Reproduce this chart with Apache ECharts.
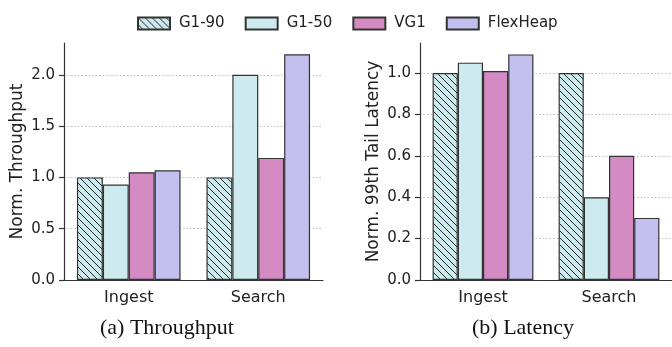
<!DOCTYPE html>
<html>
<head>
<meta charset="utf-8">
<script src="https://cdn.jsdelivr.net/npm/echarts@6/dist/echarts.min.js"></script>
<style>
  html, body { margin: 0; padding: 0; background: #fff; }
  #chart { width: 672px; height: 347px; }
</style>
</head>
<body>
<div id="chart"></div>
<script>
'use strict';
// data
const categories = ['Ingest', 'Search'];
const seriesNames = ['G1-90', 'G1-50', 'VG1', 'FlexHeap'];

const tputG190 = [1.0, 1.0];
const tputG150 = [0.93, 2.0];
const tputVG1 = [1.05, 1.19];
const tputFlex = [1.07, 2.2];

const latG190 = [1.0, 1.0];
const latG150 = [1.05, 0.4];
const latVG1 = [1.01, 0.6];
const latFlex = [1.09, 0.3];

const tputTicks = [0, 0.5, 1.0, 1.5, 2.0];
const latTicks = [0, 0.2, 0.4, 0.6, 0.8, 1.0];

const cyan = '#cdeaee';
const pink = '#d48bc4';
const lavender = '#c3c0f0';
const edge = '#333';

// hatch pattern for G1-90 (\\\)
function makeHatch() {
    const s = 7;
    const c = document.createElement('canvas');
    c.width = s; c.height = s;
    const ctx = c.getContext('2d');
    ctx.fillStyle = cyan;
    ctx.fillRect(0, 0, s, s);
    ctx.strokeStyle = '#111';
    ctx.lineWidth = 0.9;
    for (let k = -1; k <= 1; k++) {
        ctx.beginPath();
        ctx.moveTo(k * s, 0);
        ctx.lineTo(k * s + s, s);
        ctx.stroke();
    }
    return { image: c, repeat: 'repeat' };
}
const hatch = makeHatch();

const sans = 'DejaVu Sans';
const txt = '#222';

function xAxis(gridIndex) {
    return {
        type: 'category',
        gridIndex: gridIndex,
        data: categories,
        axisLine: { lineStyle: { color: edge, width: 1.2 } },
        axisTick: { alignWithLabel: true, length: 5, lineStyle: { color: edge, width: 1.2 } },
        axisLabel: { color: txt, fontFamily: sans, fontSize: 16, margin: 10 }
    };
}

function yAxis(gridIndex, name, max, interval, ticks) {
    return {
        type: 'value',
        gridIndex: gridIndex,
        min: 0,
        max: max,
        interval: interval,
        name: name,
        nameLocation: 'middle',
        nameGap: 38,
        nameTextStyle: { color: txt, fontFamily: sans, fontSize: 17 },
        axisLine: { show: true, lineStyle: { color: edge, width: 1.2 } },
        axisTick: { show: true, length: 5, customValues: ticks, lineStyle: { color: edge, width: 1.2 } },
        axisLabel: {
            color: txt, fontFamily: sans, fontSize: 15, margin: 9,
            customValues: ticks,
            formatter: (v) => v.toFixed(1)
        },
        splitLine: {
            show: true,
            showMinLine: false,
            lineStyle: { color: '#bbb', width: 1, type: [1.5, 2] }
        }
    };
}

function bar(name, data, color, gi) {
    return {
        name: name,
        type: 'bar',
        xAxisIndex: gi,
        yAxisIndex: gi,
        data: data,
        barGap: '0%',
        barCategoryGap: '20%',
        itemStyle: { color: color, borderColor: edge, borderWidth: 1.2 },
        emphasis: { disabled: true }
    };
}

const chart = echarts.init(document.getElementById('chart'), null, { renderer: 'canvas' });

const option = {
    animation: false,
    backgroundColor: '#fff',
    legend: {
        data: seriesNames,
        left: 137,
        top: 16,
        padding: 0,
        itemWidth: 32,
        itemHeight: 12,
        itemGap: 20,
        icon: 'rect',
        textStyle: { color: txt, fontFamily: sans, fontSize: 15, padding: [0, 0, 0, 4] }
    },
    grid: [
        { left: 64, top: 43, width: 259, height: 237 },
        { left: 420, top: 43, width: 259, height: 237 }
    ],
    xAxis: [xAxis(0), xAxis(1)],
    yAxis: [
        yAxis(0, 'Norm. Throughput', 2.31, 0.5, tputTicks),
        yAxis(1, 'Norm. 99th Tail Latency', 1.145, 0.2, latTicks)
    ],
    series: [
        bar('G1-90', tputG190, hatch, 0),
        bar('G1-50', tputG150, cyan, 0),
        bar('VG1', tputVG1, pink, 0),
        bar('FlexHeap', tputFlex, lavender, 0),
        bar('G1-90', latG190, hatch, 1),
        bar('G1-50', latG150, cyan, 1),
        bar('VG1', latVG1, pink, 1),
        bar('FlexHeap', latFlex, lavender, 1)
    ],
    graphic: [
        {
            type: 'text', left: 100, top: 317,
            style: { text: '(a) Throughput', fill: '#111', font: '22px "Liberation Serif"' }
        },
        {
            type: 'text', left: 472, top: 317,
            style: { text: '(b) Latency', fill: '#111', font: '22px "Liberation Serif"' }
        }
    ]
};

chart.setOption(option);
</script>
</body>
</html>
